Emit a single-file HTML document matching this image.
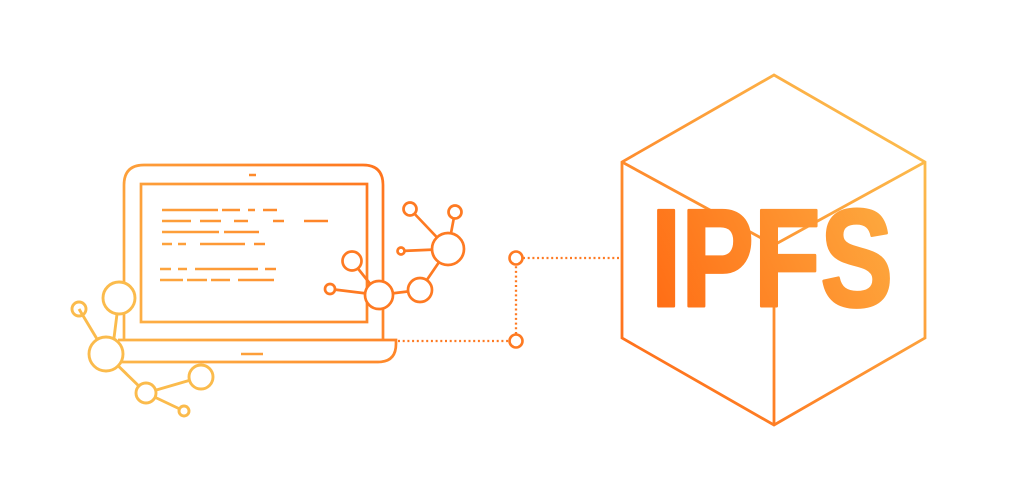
<!DOCTYPE html>
<html><head><meta charset="utf-8"><style>html,body{margin:0;padding:0;background:#fff}svg{display:block}</style></head>
<body>
<svg width="1022" height="500" viewBox="0 0 1022 500" xmlns="http://www.w3.org/2000/svg">
<defs>
<linearGradient id="lg" gradientUnits="userSpaceOnUse" x1="90" y1="400" x2="420" y2="180">
<stop offset="0" stop-color="#fcc050"/><stop offset="1" stop-color="#ff6f1a"/></linearGradient>
<linearGradient id="cg" gradientUnits="userSpaceOnUse" x1="640" y1="380" x2="920" y2="120">
<stop offset="0" stop-color="#ff6f1a"/><stop offset="1" stop-color="#fcc050"/></linearGradient>
<linearGradient id="tg" gradientUnits="userSpaceOnUse" x1="650" y1="310" x2="895" y2="200">
<stop offset="0" stop-color="#ff6c14"/><stop offset="1" stop-color="#fdab40"/></linearGradient>
</defs>
<!-- laptop -->
<g fill="none" stroke="url(#lg)" stroke-width="2.7">
<path d="M124 340 V185 Q124 165 144 165 H363 Q383 165 383 185 V340"/>
<rect x="141" y="184" width="226" height="138"/>
<path d="M118 340 H396 V344 Q396 362 378 362 H118"/>
</g>
<g stroke="url(#lg)" stroke-width="2.5">
<line x1="249" y1="175" x2="256" y2="175"/>
<line x1="241" y1="354" x2="263" y2="354"/>
<path d="M162 210H218M222 210H240M248 210H255M263 210H277
M162 221H191M200 221H221M234 221H248M273 221H284M304 221H328
M162 232H219M224 232H259
M162 244H172M178 244H186M200 244H245M254 244H265
M160 269H171M178 269H187M195 269H258M265 269H276
M160 280H183M187 280H207M211 280H230M238 280H274"/>
</g>
<!-- right network -->
<g fill="#fff" stroke="#fe7a22" stroke-width="2.7">
<path d="M410 209L448 249M455 212L448 249M401 251L448 249M420 290L448 249M352 261L379 295M330 289L379 295M379 295L420 290" fill="none"/>
<circle cx="448" cy="249" r="16"/>
<circle cx="410" cy="209" r="6.5"/>
<circle cx="455" cy="212" r="6.5"/>
<circle cx="401" cy="251" r="3.5"/>
<circle cx="352" cy="261" r="9.5"/>
<circle cx="379" cy="295" r="14"/>
<circle cx="420" cy="290" r="12"/>
<circle cx="330" cy="289" r="5"/>
</g>
<!-- left network -->
<g fill="none" stroke="#fbbb4c" stroke-width="2.9">
<path d="M79 309L106 354M119 298L112 354M106 354L146 393L201 377M146 393L184 411"/>
<circle cx="119" cy="298" r="16" fill="#fff"/>
<circle cx="79" cy="309" r="7"/>
<circle cx="106" cy="354" r="17" fill="#fff"/>
<circle cx="201" cy="377" r="12" fill="#fff"/>
<circle cx="146" cy="393" r="10" fill="#fff"/>
<circle cx="184" cy="411" r="5" fill="#fff"/>
</g>
<!-- connector -->
<g fill="none" stroke="#fe7a22" stroke-width="2.3">
<path d="M398 341H509M516 334V266M523 258H622" stroke-dasharray="2 2.7"/>
<circle cx="516" cy="341" r="6.5" stroke-width="2.6"/>
<circle cx="516" cy="258" r="6.5" stroke-width="2.6"/>
</g>
<!-- cube -->
<g fill="none" stroke="url(#cg)" stroke-width="2.8" stroke-linejoin="miter">
<path d="M774 75L925 162V338L774 425L622 338V162Z"/>
<path d="M622 162L774 245L925 162M774 245V425"/>
</g>
<text x="651" y="306" font-family="Liberation Sans, sans-serif" font-weight="bold" font-size="139" fill="url(#tg)" stroke="url(#tg)" stroke-width="3" stroke-linejoin="round" textLength="242" lengthAdjust="spacingAndGlyphs">IPFS</text>
</svg>
</body></html>
